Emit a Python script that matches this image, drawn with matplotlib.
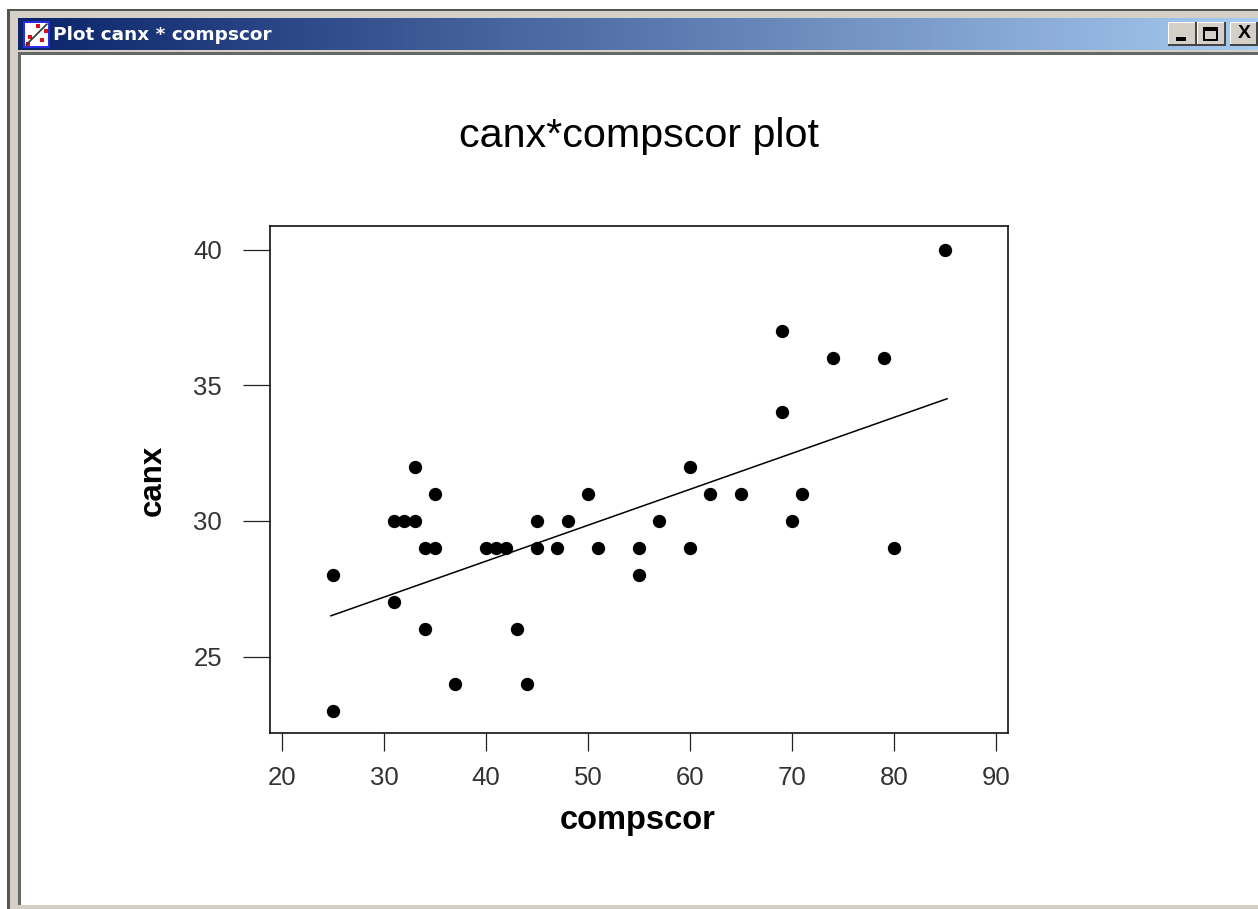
import numpy as np
import matplotlib
matplotlib.use("Agg")
import matplotlib.pyplot as plt
from matplotlib.patches import Rectangle

plt.rcParams['font.family'] = ['Liberation Sans', 'DejaVu Sans']

compscor = [25, 25, 31, 31, 32, 33, 33, 34, 34, 35, 35, 37, 40, 41, 42, 43, 44, 45, 45,
            47, 48, 50, 51, 55, 55, 57, 60, 60, 62, 65, 69, 69, 70, 71, 74, 79, 80, 85]
canx = [28, 23, 30, 27, 30, 30, 32, 29, 26, 29, 31, 24, 29, 29, 29, 26, 24, 30, 29,
        29, 30, 31, 29, 29, 28, 30, 32, 29, 31, 31, 37, 34, 30, 31, 36, 36, 29, 40]
fit_x = [24.8, 85.2]
fit_y = [26.5, 34.5]
x_ticks = [20, 30, 40, 50, 60, 70, 80, 90]
y_ticks = [25, 30, 35, 40]

W, H = 1258, 909
fig = plt.figure(figsize=(W / 100, H / 100), dpi=100, facecolor='white')


def box(x0, y0, x1, y1, color, z=0):
    # window chrome, pixel coords from the top left
    fig.add_artist(Rectangle((x0 / W, 1 - y1 / H), (x1 - x0) / W, (y1 - y0) / H,
                             transform=fig.transFigure, fc=color, ec='none', zorder=z))


# window frame
box(7, 9, W, 909, '#d4d0c8', 0)
box(7, 9, W, 11, '#555555', 1)
box(7, 9, 10, 909, '#555555', 1)
box(20, 55, W, 905, 'white', 1)
box(18, 52, W, 55, '#666666', 1)
box(18, 52, 21, 905, '#666666', 1)

# title bar gradient
bar = fig.add_axes([18 / W, 1 - 50 / H, (W - 18) / W, 32 / H], zorder=2)
bar.imshow(np.linspace(0, 1, 256).reshape(1, -1), aspect='auto',
           cmap=matplotlib.colors.LinearSegmentedColormap.from_list('tb', ['#0a246a', '#a6caf0']))
bar.axis('off')
fig.text(53 / W, 1 - 35 / H, 'Plot canx * compscor', color='white', fontsize=13.3,
         fontweight='bold', va='center', zorder=5, family=['DejaVu Sans'])

# icon
box(23, 21, 50, 48, '#2a2ae0', 3)
box(25, 23, 48, 46, 'white', 4)
icon = fig.add_axes([25 / W, 1 - 46 / H, 23 / W, 23 / H], zorder=5)
icon.plot([0.05, 0.95], [0.05, 0.95], color='#333333', lw=1.2)
icon.scatter([0.15, 0.2, 0.55, 0.75, 0.9], [0.1, 0.4, 0.85, 0.25, 0.65], s=7, color='#e01010', marker='s', linewidths=0)
icon.set_xlim(0, 1)
icon.set_ylim(0, 1)
icon.axis('off')

# window buttons
for x0, x1 in [(1168, 1197), (1197, 1226), (1230, W)]:
    box(x0, 22, x1, 46, '#444444', 3)
    box(x0, 22, x1 - 2, 44, 'white', 3.5)
    box(x0 + 1, 23, x1 - 2, 44, '#d4d0c8', 4)
box(1176, 37, 1186, 41, 'black', 5)
box(1203, 27, 1218, 41, 'black', 5)
box(1205, 31, 1216, 39, '#d4d0c8', 6)
fig.text(1244 / W, 1 - 33.5 / H, 'X', color='black', fontsize=14, ha='center', va='center',
         fontweight='bold', zorder=6)

# plot
ax = fig.add_axes([270 / W, 1 - 733 / H, 738 / W, 507 / H], zorder=3)
ax.scatter(compscor, canx, s=92, color='black', linewidths=0, zorder=3)
ax.plot(fit_x, fit_y, color='black', lw=1.1, zorder=2)

px_x = (996 - 282) / 70
px_y = (656.5 - 249.5) / 15
ax.set_xlim(20 - (282 - 270) / px_x, 20 + (1008 - 282) / px_x)
ax.set_ylim(25 - (733 - 656.5) / px_y, 40 + (249.5 - 226) / px_y)
ax.set_xticks(x_ticks)
ax.set_yticks(y_ticks)
ax.tick_params(axis='x', direction='out', length=13, width=0.9, color='#222222', pad=10.5)
ax.tick_params(axis='y', direction='out', length=19.4, width=0.9, color='#222222', pad=15)
for lab in ax.get_xticklabels() + ax.get_yticklabels():
    lab.set_fontsize(18.5)
    lab.set_color('#333333')
for s in ax.spines.values():
    s.set_linewidth(1.2)
    s.set_color('#111111')

fig.text(639 / W, 1 - 136 / H, 'canx*compscor plot', fontsize=29.7, ha='center', va='center', zorder=5)
fig.text(638 / W, 1 - 820 / H, 'compscor', fontsize=23.5, fontweight='bold', ha='center', va='center', zorder=5)
fig.text(152.5 / W, 1 - 480 / H, 'canx', fontsize=22.5, fontweight='bold', rotation=90, ha='center', va='center', zorder=5)

fig.savefig('out.png', dpi=100)
